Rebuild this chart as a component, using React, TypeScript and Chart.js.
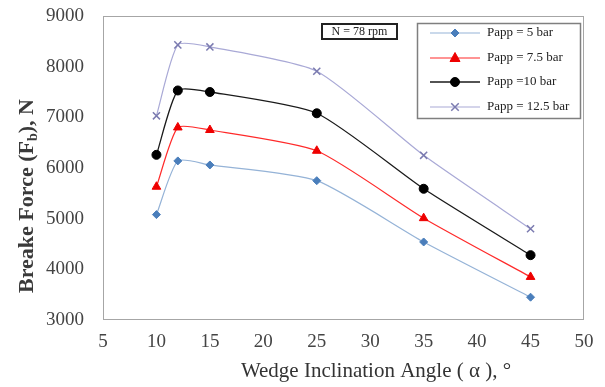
import React, { useEffect, useRef } from "react";
import { Chart, registerables } from "chart.js";

Chart.register(...registerables);

const angles = [10, 12, 15, 25, 35, 45];
const papp5 = [5080, 6140, 6060, 5750, 4540, 3450];
const papp75 = [5630, 6800, 6750, 6340, 5010, 3850];
const papp10 = [6260, 7530, 7500, 7080, 5590, 4280];
const papp125 = [7030, 8430, 8390, 7910, 6250, 4800];
const seriesLabels = ["Papp = 5 bar", "Papp = 7.5 bar", "Papp =10 bar", "Papp = 12.5 bar"];
const xTitle = "Wedge Inclination Angle ( α ), °";
const yTitleParts = ["Breake Force (F", "b", "), N"];
const noteText = "N = 78 rpm";

const FONT = "'Liberation Serif', 'Times New Roman', serif";

function drawPoint(ctx: CanvasRenderingContext2D, style: string, r: number, x: number, y: number, fill: string, stroke: string, bw: number) {
  ctx.save();
  ctx.fillStyle = fill;
  ctx.strokeStyle = stroke;
  ctx.lineWidth = bw;
  ctx.beginPath();
  if (style === "circle") {
    ctx.arc(x, y, r, 0, Math.PI * 2);
    ctx.fill();
    ctx.stroke();
  } else if (style === "triangle") {
    ctx.moveTo(x, y - r * 1.1);
    ctx.lineTo(x + r, y + r * 0.7);
    ctx.lineTo(x - r, y + r * 0.7);
    ctx.closePath();
    ctx.fill();
    ctx.stroke();
  } else if (style === "rectRot") {
    ctx.moveTo(x, y - r);
    ctx.lineTo(x + r, y);
    ctx.lineTo(x, y + r);
    ctx.lineTo(x - r, y);
    ctx.closePath();
    ctx.fill();
    ctx.stroke();
  } else if (style === "crossRot") {
    const d = r * 0.75;
    ctx.moveTo(x - d, y - d);
    ctx.lineTo(x + d, y + d);
    ctx.moveTo(x + d, y - d);
    ctx.lineTo(x - d, y + d);
    ctx.stroke();
  }
  ctx.restore();
}

const overlayPlugin = {
  id: "overlay",
  afterDraw(chart: any) {
    const { ctx, chartArea } = chart;
    const { left, right, top, bottom } = chartArea;
    ctx.save();
    // plot border
    ctx.strokeStyle = "#a6a6a6";
    ctx.lineWidth = 1;
    ctx.strokeRect(left + 0.5, top + 0.5, right - left - 1, bottom - top - 1);

    // x title
    ctx.fillStyle = "#333";
    ctx.font = `21px ${FONT}`;
    ctx.textAlign = "center";
    ctx.textBaseline = "middle";
    ctx.fillText(xTitle, 376, 371);

    // y title with subscript
    ctx.save();
    ctx.translate(26, 196);
    ctx.rotate(-Math.PI / 2);
    const big = `bold 22px ${FONT}`;
    const small = `bold 14px ${FONT}`;
    ctx.font = big;
    const w0 = ctx.measureText(yTitleParts[0]).width;
    ctx.font = small;
    const w1 = ctx.measureText(yTitleParts[1]).width;
    ctx.font = big;
    const w2 = ctx.measureText(yTitleParts[2]).width;
    let x = -(w0 + w1 + w2) / 2;
    ctx.fillStyle = "#3a3a3a";
    ctx.textAlign = "left";
    ctx.textBaseline = "alphabetic";
    ctx.fillText(yTitleParts[0], x, 7);
    x += w0;
    ctx.font = small;
    ctx.fillText(yTitleParts[1], x, 11);
    x += w1;
    ctx.font = big;
    ctx.fillText(yTitleParts[2], x, 7);
    ctx.restore();

    // note box
    ctx.strokeStyle = "#222";
    ctx.lineWidth = 2;
    ctx.strokeRect(322, 24, 75, 15);
    ctx.font = `12px ${FONT}`;
    ctx.textAlign = "center";
    ctx.textBaseline = "middle";
    ctx.fillStyle = "#222";
    ctx.fillText(noteText, 359.5, 32);

    // legend
    ctx.strokeStyle = "#7f7f7f";
    ctx.lineWidth = 1.5;
    ctx.strokeRect(417.5, 23.5, 163, 95);
    const rowsY = [33, 58, 82, 107];
    chart.data.datasets.forEach((ds: any, i: number) => {
      const y = rowsY[i];
      ctx.strokeStyle = ds.borderColor;
      ctx.lineWidth = ds.borderWidth;
      ctx.beginPath();
      ctx.moveTo(430, y);
      ctx.lineTo(480, y);
      ctx.stroke();
      drawPoint(ctx, ds.pointStyle, ds.pointRadius, 455, y, ds.pointBackgroundColor, ds.pointBorderColor, ds.pointBorderWidth);
      ctx.fillStyle = "#222";
      ctx.font = `13px ${FONT}`;
      ctx.textAlign = "left";
      ctx.textBaseline = "middle";
      ctx.fillText(ds.label, 487, y);
    });
    ctx.restore();
  },
};

function toPoints(vals: number[]) {
  return angles.map((a, i) => ({ x: a, y: vals[i] }));
}

export default function App() {
  const ref = useRef<HTMLCanvasElement>(null);
  useEffect(() => {
    document.body.style.margin = "0";
    const canvas = ref.current!;
    const mk = (label: string, vals: number[], line: string, mfill: string, mstroke: string, style: string, r: number, bw: number, lw: number) => ({
      label,
      data: toPoints(vals),
      borderColor: line,
      borderWidth: lw,
      pointStyle: style,
      pointRadius: r,
      pointBackgroundColor: mfill,
      pointBorderColor: mstroke,
      pointBorderWidth: bw,
      tension: 0.2,
      fill: false,
    });
    const tickFont = { family: FONT, size: 19 };
    const chart = new Chart(canvas, {
      type: "line",
      data: {
        datasets: [
          mk(seriesLabels[0], papp5, "#95b3d7", "#4a7ebb", "#4a7ebb", "rectRot", 4, 1, 1.2),
          mk(seriesLabels[1], papp75, "#ff2a2a", "#ee0000", "#ee0000", "triangle", 5, 1, 1.2),
          mk(seriesLabels[2], papp10, "#1a1a1a", "#000000", "#000000", "circle", 4.5, 1, 1.3),
          mk(seriesLabels[3], papp125, "#a9a9d6", "#7b7bb0", "#7b7bb0", "crossRot", 5, 1.5, 1.2),
        ] as any,
      },
      options: {
        animation: false,
        responsive: false,
        maintainAspectRatio: false,
        layout: { padding: { left: 0, right: 21, top: 16, bottom: 0 } },
        plugins: { legend: { display: false }, tooltip: { enabled: false } },
        scales: {
          x: {
            type: "linear",
            min: 5,
            max: 50,
            ticks: { stepSize: 5, color: "#444", font: tickFont, padding: 0 },
            grid: { display: true, drawOnChartArea: false, drawTicks: true, tickLength: 11, tickColor: "rgba(0,0,0,0)" },
            border: { display: false },
            afterFit: (s: any) => { s.height = 67; },
          },
          y: {
            min: 3000,
            max: 9000,
            ticks: { stepSize: 1000, color: "#444", font: tickFont, padding: 0, callback: (v: any) => String(v) },
            grid: { display: true, drawOnChartArea: false, drawTicks: true, tickLength: 19, tickColor: "rgba(0,0,0,0)" },
            border: { display: false },
            afterFit: (s: any) => { s.width = 103; },
          },
        },
      } as any,
      plugins: [overlayPlugin],
    });
    return () => chart.destroy();
  }, []);
  return (
    <div style={{ width: 605, height: 387 }}>
      <canvas ref={ref} width={605} height={387} style={{ display: "block" }} />
    </div>
  );
}
